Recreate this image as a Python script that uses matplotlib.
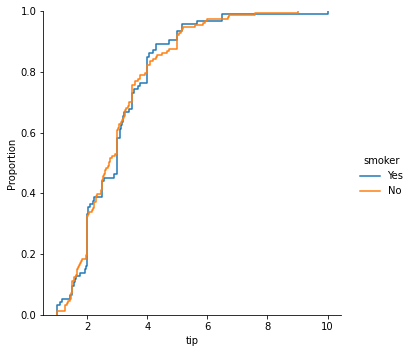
import matplotlib.pyplot as plt
import numpy as np

# tips dataset, tip amounts split by smoker
tip_yes = [3.0, 1.76, 3.21, 2.0, 1.98, 3.76, 1.0, 2.09, 3.14, 5.0, 3.08,
           3.0, 5.0,
           3.0, 1.0, 4.3, 4.73, 4.0, 1.5, 3.0, 2.5, 3.0,
           2.5, 3.48, 1.64, 4.06, 4.29, 4.0,
           2.0, 3.0,
           1.61, 2.0, 10.0, 3.16, 5.15, 3.18, 4.0, 3.11, 2.0, 2.0, 4.0, 3.55, 3.68, 5.65, 3.5, 6.5, 3.0,
           3.5, 2.0, 3.5, 4.0, 1.5,
           4.19, 2.56, 2.02, 4.0,
           2.0, 5.0, 2.0, 2.0, 4.0, 2.01, 2.0, 2.5, 4.0, 3.23,
           3.41, 3.0, 2.03, 2.23, 2.0, 5.16,
           2.5, 6.5, 1.1, 3.0, 1.5, 1.44, 3.09,
           2.2, 3.48, 1.92,
           1.58, 2.5, 2.0,
           2.88, 2.0, 3.0,
           3.0,
           1.0, 1.17,
           2.0, 2.0]

tip_no = [1.01, 1.66, 3.5, 3.31, 3.61, 4.71, 2.0, 3.12, 1.96, 3.23, 1.71, 5.0, 1.57, 3.0, 3.02, 3.92, 1.67, 3.71, 3.5,
          3.35, 4.08, 2.75, 2.23, 7.58, 3.18, 2.34, 2.0, 2.0, 4.3, 3.0, 1.45, 2.5, 3.0, 2.45, 3.27, 3.6, 2.0, 3.07, 2.31, 5.0, 2.24,
          2.54, 3.06, 1.32, 5.6, 3.0, 5.0, 6.0, 2.05, 3.0, 2.5, 2.6, 5.2, 1.56, 4.34, 3.51,
          1.5, 6.73, 2.64, 3.15, 2.47, 2.01, 1.97, 3.0, 2.2, 1.25,
          4.0, 3.0, 2.71, 3.4, 1.83, 2.03, 5.17, 2.0, 4.0, 5.85, 3.0,
          3.5, 3.25, 1.5, 4.08, 3.76, 3.0, 1.0,
          4.0, 2.55, 4.0, 3.5, 5.07,
          1.5, 1.8, 2.92, 2.31, 1.68, 2.5, 2.0, 2.52, 4.2, 1.48, 2.0, 2.0, 2.18, 1.5, 2.83, 1.5, 2.0, 3.25, 1.25, 2.0, 2.0,
          2.75, 3.5, 6.7, 5.0, 5.0, 2.3, 1.5, 1.36, 1.63, 1.73, 2.0,
          2.5, 2.0, 2.74, 2.0, 2.0, 5.14, 5.0, 3.75, 2.61, 2.0, 3.5, 2.5, 2.0, 2.0,
          3.48, 2.24, 4.5, 5.0, 1.44, 9.0, 3.0, 3.0, 2.72, 3.39, 1.47, 1.25,
          4.67, 5.92, 1.75, 3.0]

groups = ["Yes", "No"]
colors = ["#1f77b4", "#ff7f0e"]

fig = plt.figure(figsize=(410 / 72, 352 / 72), dpi=72)
ax = fig.add_axes([0.106, 0.105, 0.726, 0.864])

handles = []
for name, vals, c in zip(groups, [tip_yes, tip_no], colors):
    h = ax.ecdf(vals, color=c, lw=1.5, label=name)
    handles.append(h)

ax.set_xlim(0.55, 10.45)
ax.set_ylim(0, 1)
ax.set_xticks([2, 4, 6, 8, 10])
ax.set_xlabel("tip")
ax.set_ylabel("Proportion")
ax.spines["top"].set_visible(False)
ax.spines["right"].set_visible(False)

fig.legend(handles, groups, title="smoker", loc="center left",
           bbox_to_anchor=(0.855, 0.5), frameon=False)

fig.savefig("out.png", dpi=72)
